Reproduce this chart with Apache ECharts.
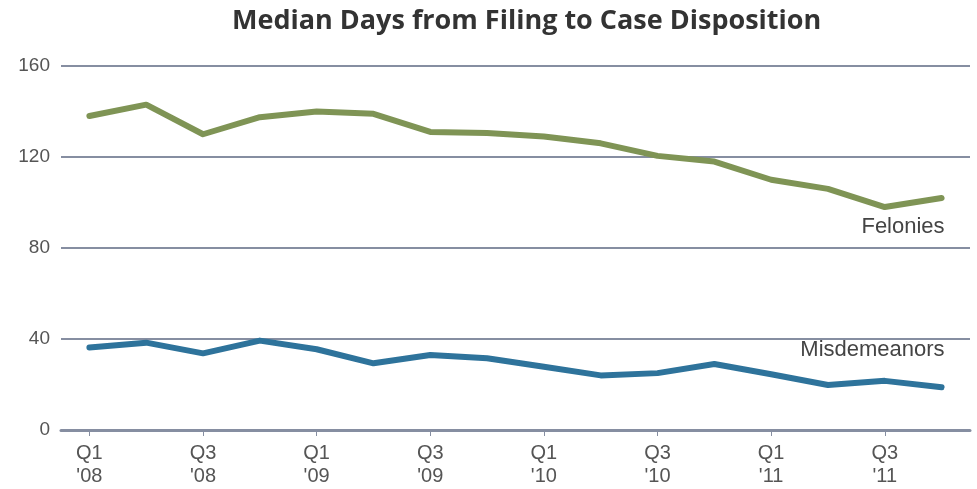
<!DOCTYPE html>
<html>
<head>
<meta charset="utf-8">
<script src="https://cdn.jsdelivr.net/npm/echarts@6/dist/echarts.min.js"></script>
<style>
  html, body { margin: 0; padding: 0; background: #fff; }
  #main { width: 977px; height: 489px; }
</style>
</head>
<body>
<div id="main"></div>
<script>
// quarters Q1 '08 .. Q4 '11
var quarters = ["Q1\n'08", "Q2\n'08", "Q3\n'08", "Q4\n'08",
                "Q1\n'09", "Q2\n'09", "Q3\n'09", "Q4\n'09",
                "Q1\n'10", "Q2\n'10", "Q3\n'10", "Q4\n'10",
                "Q1\n'11", "Q2\n'11", "Q3\n'11", "Q4\n'11"];
var felonies = [138, 143, 130, 137.5, 140, 139, 131, 130.5, 129, 126, 120.5, 118, 110, 106, 98, 102];
var misdemeanors = [36.3, 38.4, 33.7, 39.3, 35.5, 29.3, 33, 31.5, 27.8, 24, 25, 29, 24.5, 19.8, 21.6, 18.8];
var yTicks = [0, 40, 80, 120, 160];

var axisColor = '#868ea1';
var textColor = '#555';

var myChart = echarts.init(document.getElementById('main'));

var option = {
    backgroundColor: '#fff',
    animation: false,
    title: {
        text: 'Median Days from Filing to Case Disposition',
        left: 227,
        top: 3,
        textStyle: {
            fontFamily: 'Open Sans',
            fontWeight: 'bold',
            fontSize: 27,
            color: '#333'
        }
    },
    grid: { left: 61, right: 7, top: 66, bottom: 59 },
    xAxis: {
        type: 'category',
        data: quarters,
        boundaryGap: true,
        axisLine: { lineStyle: { color: axisColor, width: 3 } },
        axisTick: {
            show: true, alignWithLabel: true, interval: 1,
            length: 6, inside: false,
            lineStyle: { color: axisColor, width: 1 }
        },
        axisLabel: {
            interval: 1,
            margin: 12,
            fontFamily: 'Liberation Sans',
            fontSize: 20,
            lineHeight: 23,
            color: textColor
        }
    },
    yAxis: {
        type: 'value',
        min: yTicks[0],
        max: yTicks[yTicks.length - 1],
        interval: 40,
        axisLine: { show: false },
        axisTick: { show: false },
        splitLine: { lineStyle: { color: axisColor, width: 2 } },
        axisLabel: {
            margin: 11,
            fontFamily: 'Liberation Sans',
            fontSize: 19,
            color: textColor
        }
    },
    series: [
        {
            name: 'Felonies',
            type: 'line',
            data: felonies,
            showSymbol: false,
            lineStyle: { color: '#7f9455', width: 6, cap: 'round', join: 'round' },
            itemStyle: { color: '#7f9455' },
            endLabel: {
                show: true,
                formatter: 'Felonies',
                align: 'right',
                verticalAlign: 'middle',
                distance: 0,
                offset: [3, 29],
                fontFamily: 'Liberation Sans',
                fontSize: 22,
                color: '#444'
            }
        },
        {
            name: 'Misdemeanors',
            type: 'line',
            data: misdemeanors,
            showSymbol: false,
            lineStyle: { color: '#2e739b', width: 6, cap: 'round', join: 'round' },
            itemStyle: { color: '#2e739b' },
            endLabel: {
                show: true,
                formatter: 'Misdemeanors',
                align: 'right',
                verticalAlign: 'middle',
                distance: 0,
                offset: [3, -37],
                fontFamily: 'Liberation Sans',
                fontSize: 22,
                color: '#444'
            }
        }
    ]
};

myChart.setOption(option);
</script>
</body>
</html>
